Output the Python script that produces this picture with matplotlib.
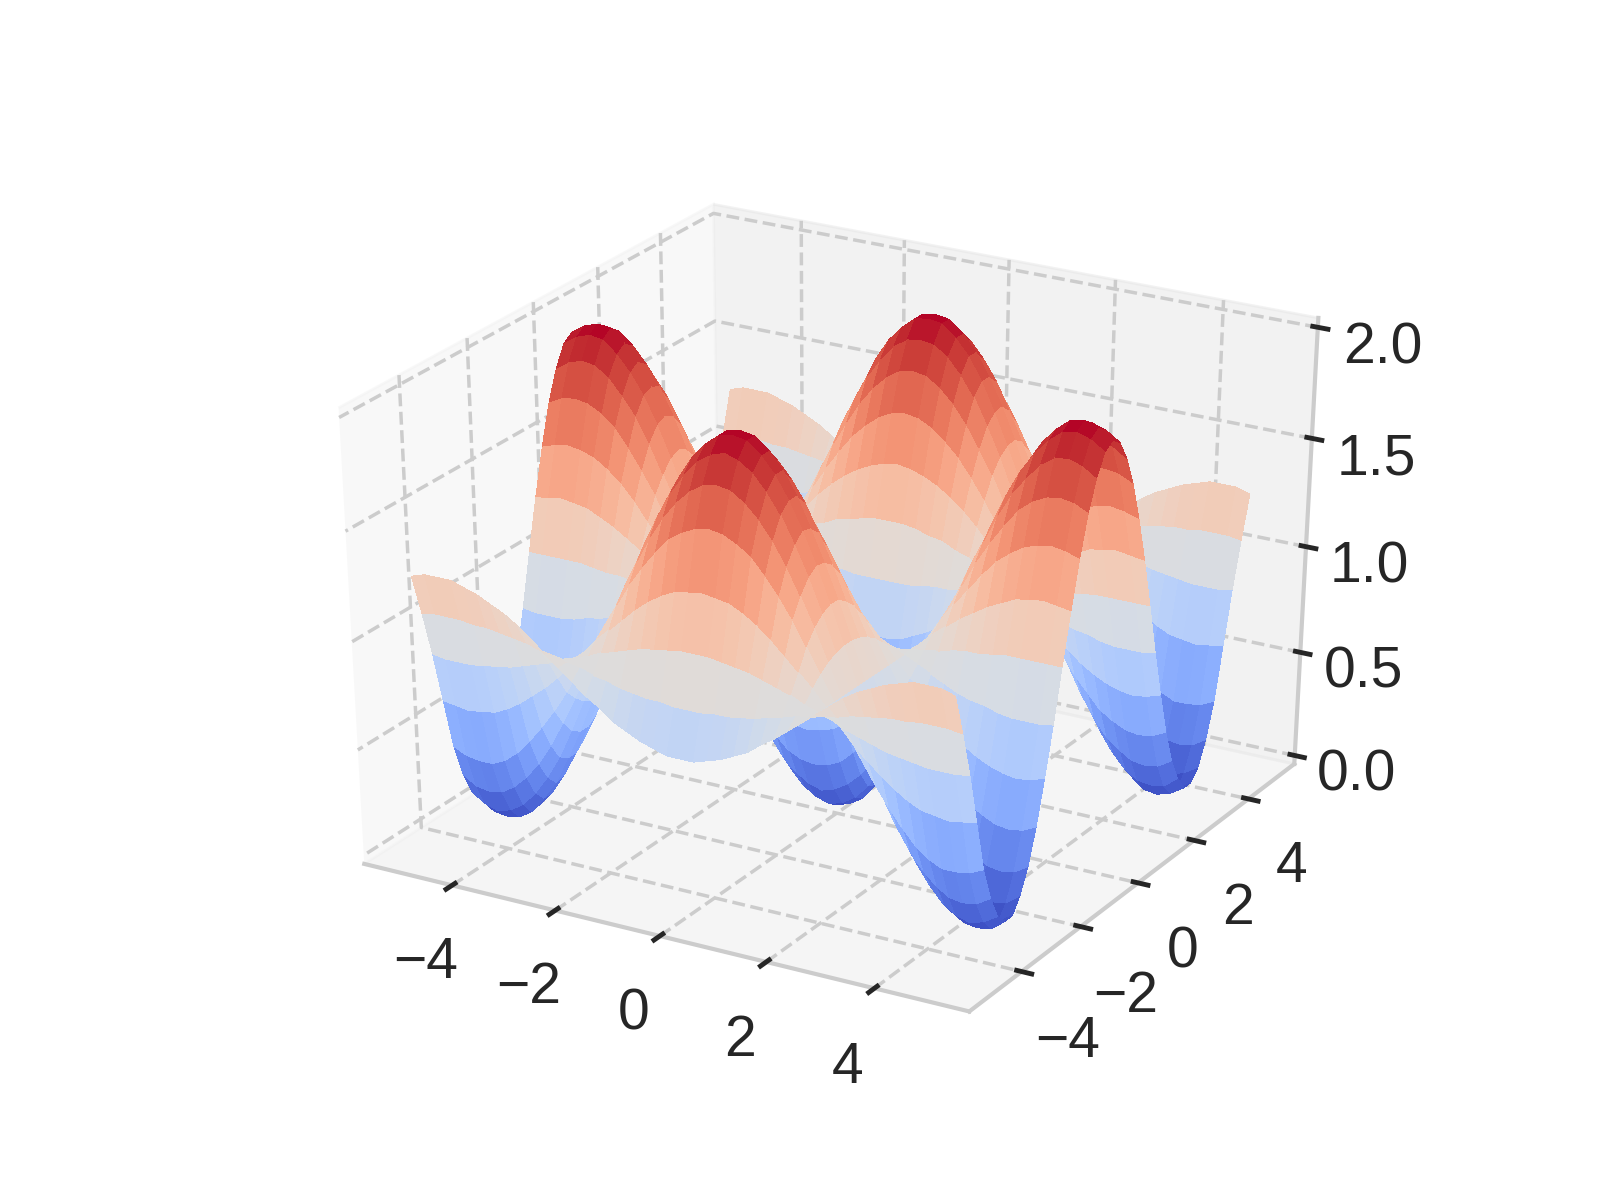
import numpy as np
import matplotlib
matplotlib.use("Agg")
import matplotlib.pyplot as plt
from matplotlib.transforms import Bbox

plt.rcParams['font.family'] = ['Liberation Sans', 'DejaVu Sans']
plt.rcParams['font.size'] = 20.5
plt.rcParams['text.color'] = '.15'
plt.rcParams['xtick.color'] = '.15'
plt.rcParams['ytick.color'] = '.15'
plt.rcParams['xtick.major.width'] = 1.75
plt.rcParams['ytick.major.width'] = 1.75
plt.rcParams['axes.edgecolor'] = '.8'
plt.rcParams['axes.linewidth'] = 1.5
plt.rcParams['grid.color'] = '.8'
plt.rcParams['grid.linestyle'] = '--'
plt.rcParams['grid.linewidth'] = 1.25

# Surface is symmetric about x=0 and y=0, so only the x>=0, y>=0 quarter is kept
half_axis = [0.0, 0.25, 0.5, 0.75, 1.0, 1.25, 1.5, 1.75, 2.0, 2.25, 2.5,
             2.75, 3.0, 3.25, 3.5, 3.75, 4.0, 4.25, 4.5, 4.75, 5.0]

# rows: y from 0 to 5, columns: x from 0 to 5
z_quarter = [
    [.00, .02, .06, .14, .24, .36, .50, .66, .83, 1.00, 1.18, 1.35, 1.51, 1.65, 1.77, 1.87, 1.94, 1.99, 2.00, 1.98, 1.94],
    [.03, .05, .09, .16, .26, .38, .52, .67, .84, 1.00, 1.17, 1.34, 1.49, 1.63, 1.75, 1.84, 1.91, 1.96, 1.97, 1.95, 1.91],
    [.12, .14, .18, .24, .33, .44, .56, .70, .85, 1.00, 1.16, 1.31, 1.44, 1.57, 1.68, 1.76, 1.83, 1.87, 1.88, 1.86, 1.82],
    [.27, .28, .31, .37, .44, .53, .64, .75, .88, 1.00, 1.13, 1.25, 1.37, 1.47, 1.56, 1.64, 1.69, 1.72, 1.73, 1.72, 1.69],
    [.46, .47, .49, .53, .59, .65, .73, .82, .91, 1.00, 1.10, 1.19, 1.27, 1.35, 1.42, 1.47, 1.51, 1.53, 1.54, 1.53, 1.51],
    [.69, .69, .70, .73, .76, .80, .84, .89, .95, 1.00, 1.06, 1.11, 1.16, 1.20, 1.24, 1.27, 1.30, 1.31, 1.32, 1.31, 1.30],
    [.93, .93, .93, .94, .95, .95, .96, .98, .99, 1.00, 1.01, 1.02, 1.04, 1.05, 1.05, 1.06, 1.07, 1.07, 1.07, 1.07, 1.07],
    [1.18, 1.18, 1.17, 1.15, 1.14, 1.11, 1.09, 1.06, 1.03, 1.00, .97, .94, .91, .88, .86, .85, .83, .82, .82, .82, .83],
    [1.42, 1.41, 1.39, 1.36, 1.32, 1.27, 1.21, 1.14, 1.07, 1.00, .93, .86, .79, .73, .68, .64, .61, .59, .58, .59, .61],
    [1.63, 1.62, 1.59, 1.54, 1.48, 1.40, 1.31, 1.21, 1.11, 1.00, .89, .78, .68, .59, .52, .45, .41, .38, .37, .38, .41],
    [1.80, 1.79, 1.75, 1.69, 1.61, 1.51, 1.40, 1.27, 1.14, 1.00, .86, .72, .60, .48, .38, .30, .25, .21, .20, .21, .25],
    [1.92, 1.91, 1.87, 1.80, 1.71, 1.59, 1.46, 1.31, 1.16, 1.00, .84, .68, .53, .40, .29, .20, .13, .09, .08, .09, .14],
    [1.99, 1.98, 1.93, 1.86, 1.76, 1.63, 1.49, 1.34, 1.17, 1.00, .82, .66, .50, .36, .24, .14, .07, .02, .01, .03, .07],
    [1.99, 1.98, 1.93, 1.86, 1.76, 1.64, 1.50, 1.34, 1.17, 1.00, .82, .66, .50, .36, .23, .14, .06, .02, .01, .02, .07],
    [1.94, 1.92, 1.88, 1.81, 1.72, 1.60, 1.47, 1.32, 1.16, 1.00, .83, .68, .53, .39, .28, .19, .12, .08, .06, .08, .12],
    [1.82, 1.81, 1.77, 1.71, 1.63, 1.53, 1.41, 1.28, 1.14, 1.00, .85, .72, .59, .47, .37, .29, .23, .19, .18, .19, .23],
    [1.65, 1.64, 1.61, 1.57, 1.50, 1.42, 1.33, 1.22, 1.11, 1.00, .88, .77, .67, .58, .50, .43, .38, .35, .35, .36, .39],
    [1.39, 1.38, 1.37, 1.34, 1.30, 1.25, 1.19, 1.13, 1.07, 1.00, .93, .86, .80, .75, .70, .66, .63, .62, .61, .62, .63],
    [1.14, 1.14, 1.13, 1.12, 1.11, 1.09, 1.07, 1.05, 1.02, 1.00, .98, .95, .93, .91, .89, .88, .87, .86, .86, .86, .87],
    [.91, .91, .92, .92, .93, .94, .96, .97, .99, 1.00, 1.02, 1.03, 1.05, 1.06, 1.07, 1.08, 1.08, 1.09, 1.09, 1.09, 1.08],
    [.71, .71, .73, .75, .78, .81, .86, .90, .95, 1.00, 1.05, 1.10, 1.15, 1.19, 1.22, 1.25, 1.27, 1.29, 1.29, 1.29, 1.27],
]

xy_ticks = [-4, -2, 0, 2, 4]
z_ticks = [0.0, 0.5, 1.0, 1.5, 2.0]

# Unfold the quarter into the full grid
half = np.array(half_axis)
axis_vals = np.concatenate([-half[:0:-1], half])
quarter = np.array(z_quarter)
rows = np.vstack([quarter[:0:-1], quarter])
Z = np.hstack([rows[:, :0:-1], rows])
X, Y = np.meshgrid(axis_vals, axis_vals)

fig = plt.figure(figsize=(8, 6), dpi=200)
ax = fig.add_subplot(projection='3d')
ax.plot_surface(X, Y, Z, rstride=1, cstride=1, cmap='coolwarm',
                linewidth=0, antialiased=False)

ax.set_xticks(xy_ticks)
ax.set_yticks(xy_ticks)
ax.set_zticks(z_ticks)
ax.tick_params(axis='x', pad=7)
ax.tick_params(axis='y', pad=7)
ax.tick_params(axis='z', pad=6)

# Old-style stretched cube: unit box filling the whole non-square axes
ax.set_box_aspect((1, 1, 1), zoom=0.947)
full_rect = ax.get_position(original=True)
ax.apply_aspect = lambda position=None: ax._set_position(Bbox(full_rect), 'active')

plt.savefig('out.png', dpi=200)
